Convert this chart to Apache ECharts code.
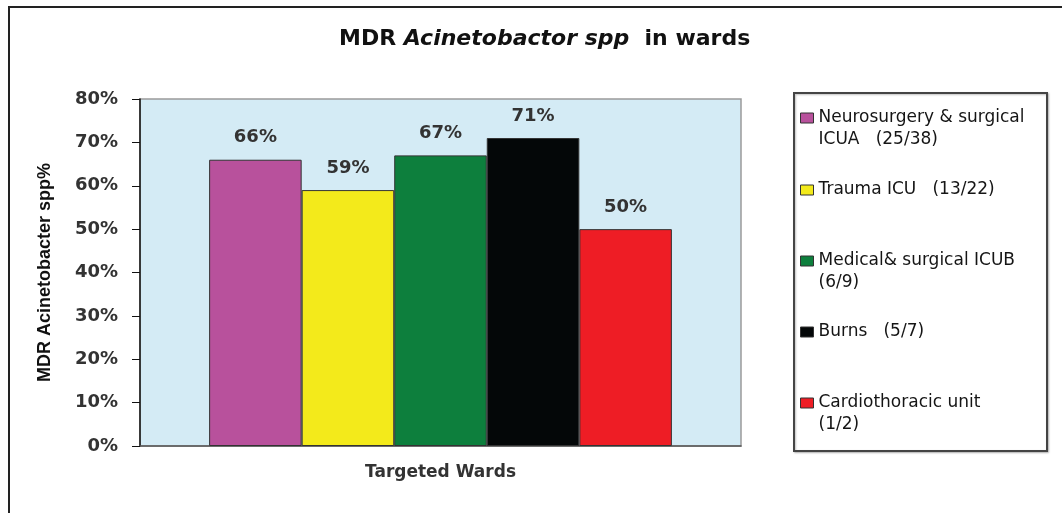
<!DOCTYPE html>
<html>
<head>
<meta charset="utf-8">
<script src="https://cdn.jsdelivr.net/npm/echarts@6/dist/echarts.min.js"></script>
<style>
  html, body { margin: 0; padding: 0; background: #fff; }
  #chart { width: 1062px; height: 513px; }
</style>
</head>
<body>
<div id="chart"></div>
<script>
// chart data
const categories = ['Targeted Wards']
const wardNames = [
  'Neurosurgery & surgical\nICUA   (25/38)',
  'Trauma ICU   (13/22)',
  'Medical& surgical ICUB\n(6/9)',
  'Burns   (5/7)',
  'Cardiothoracic unit\n(1/2)'
]
const wardValues = [66, 59, 67, 71, 50]
const wardColors = ['#b8519c', '#f3ea1b', '#0d7f3d', '#040708', '#ee1d25']
const yTicks = [0, 10, 20, 30, 40, 50, 60, 70, 80]

const font = 'DejaVu Sans'

const chart = echarts.init(document.getElementById('chart'), null, { renderer: 'canvas' })

const series = wardNames.map((name, i) => ({
  name: name,
  type: 'bar',
  data: [wardValues[i]],
  barGap: '0%',
  barCategoryGap: '23%',
  itemStyle: {
    color: wardColors[i],
    borderColor: '#333',
    borderWidth: 1
  },
  label: {
    show: true,
    position: 'top',
    distance: 13,
    formatter: '{c}%',
    color: '#333',
    fontFamily: font,
    fontWeight: 'bold',
    fontSize: 18
  },
  animation: false
}))

// one legend per entry so each can sit on its own row, marker beside the first text line
const legendTops = [107, 179, 250, 321, 392]
const legends = wardNames.map((name, i) => {
  const twoLines = name.indexOf('\n') >= 0
  return {
    orient: 'vertical',
    left: 800,
    top: legendTops[i],
    padding: 0,
    itemWidth: 13,
    itemHeight: twoLines ? 32 : 10,
    icon: twoLines ? 'path://M0,0H13V10H0Z M0,32' : 'rect',
    selectedMode: false,
    itemStyle: { borderColor: '#333', borderWidth: 1 },
    textStyle: { fontFamily: font, fontSize: 17, color: '#151515', lineHeight: 22 },
    data: [name]
  }
})

chart.setOption({
  backgroundColor: '#fff',
  title: {
    left: 334,
    top: 23,
    text: '{b|MDR }{i|Acinetobactor spp}{b|  in wards}',
    textStyle: {
      rich: {
        b: { fontFamily: font, fontWeight: 'bold', fontSize: 22, color: '#111' },
        i: { fontFamily: font, fontWeight: 'bold', fontStyle: 'italic', fontSize: 22, color: '#111' }
      }
    }
  },
  graphic: [
    {
      type: 'rect',
      shape: { x: 9, y: 7, width: 1100, height: 600 },
      style: { fill: 'none', stroke: '#222', lineWidth: 2 },
      silent: true
    },
    {
      type: 'rect',
      shape: { x: 794, y: 93, width: 253, height: 358 },
      style: { fill: '#fff', stroke: '#444', lineWidth: 2, shadowColor: 'rgba(0,0,0,0.25)', shadowBlur: 2, shadowOffsetX: 1, shadowOffsetY: 1 },
      z: -1,
      silent: true
    }
  ],
  legend: legends,
  grid: {
    left: 140,
    right: 321,
    top: 99,
    bottom: 67,
    show: true,
    backgroundColor: '#d4ebf5',
    borderColor: '#9a9a9a',
    borderWidth: 1.5
  },
  xAxis: {
    type: 'category',
    data: categories,
    axisLine: { lineStyle: { color: '#555', width: 1.5 } },
    axisTick: { show: false },
    axisLabel: {
      margin: 18,
      color: '#333',
      fontFamily: font,
      fontWeight: 'bold',
      fontSize: 17
    }
  },
  yAxis: {
    type: 'value',
    min: 0,
    max: 80,
    interval: 10,
    name: 'MDR Acinetobacter spp%',
    nameLocation: 'middle',
    nameGap: 86,
    nameTextStyle: {
      fontFamily: 'Liberation Sans',
      fontWeight: 'bold',
      fontSize: 18,
      color: '#111'
    },
    axisLine: { show: true, lineStyle: { color: '#111', width: 1.5 } },
    axisTick: { show: true, inside: false, length: 8, lineStyle: { color: '#111' } },
    axisLabel: {
      margin: 22,
      color: '#333',
      fontFamily: font,
      fontWeight: 'bold',
      fontSize: 18,
      formatter: v => yTicks.indexOf(v) >= 0 ? v + '%' : ''
    },
    splitLine: { show: false }
  },
  series: series
})
</script>
</body>
</html>
